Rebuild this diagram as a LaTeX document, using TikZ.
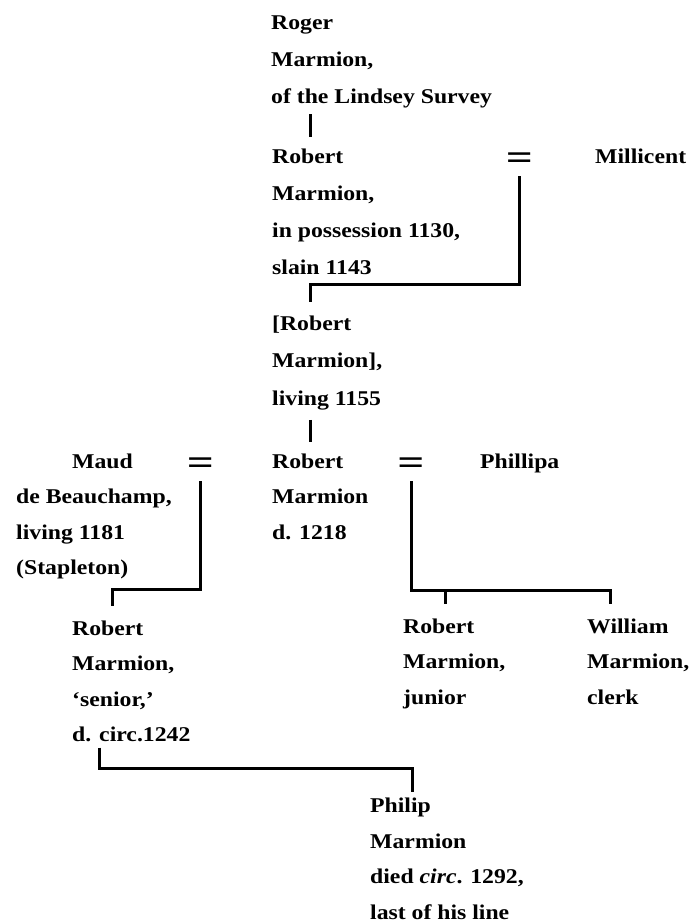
\documentclass[tikz,border=0pt]{standalone}
\usepackage{fontspec}
\setmainfont{Liberation Serif}[FakeStretch=1.13]
\usepackage{tikz}

\tikzset{
  person/.style={anchor=base west, align=left, inner sep=0pt,
    font=\fontsize{21}{#1}\selectfont\bfseries},
  person/.default=35.5,
  marr/.style={inner sep=0pt, minimum height=30pt,
    font=\fontsize{21}{21}\selectfont\bfseries},
  line/.style={line width=3pt}
}

\begin{document}
\begin{tikzpicture}[x=1pt, y=-1pt]
  \useasboundingbox (0,0) rectangle (690,924);
  % first generations (nodes sit on the baseline of their last line)
  \node[person=37] (roger) at (271,103.5) {Roger\\Marmion,\\of the Lindsey Survey};
  \node[person=37] (robA) at (272,274.5) {Robert\\Marmion,\\in possession 1130,\\slain 1143};
  \node[marr] (eqA) at (519.5,161) {\scalebox{2}[1.7]{=}};
  \node[person] (millicent) at (595,163.5) {Millicent};
  \node[person=37.5] (robB) at (272,405) {[Robert\\Marmion],\\living 1155};
  % the two marriages
  \node[person] (maud) at (16,574.5) {\hspace*{56pt}Maud\\de Beauchamp,\\living 1181\\(Stapleton)};
  \node[marr] (eqB) at (200.5,466) {\scalebox{2}[1.7]{=}};
  \node[person] (robC) at (272,539) {Robert\\Marmion\\d. 1218};
  \node[marr] (eqC) at (411,466) {\scalebox{2}[1.7]{=}};
  \node[person] (phillipa) at (480,468) {Phillipa};
  % children
  \node[person] (robD) at (72,741.5) {Robert\\Marmion,\\`senior,'\\d. circ.1242};
  \node[person] (robE) at (403,704) {Robert\\Marmion,\\junior};
  \node[person] (william) at (587,704) {William\\Marmion,\\clerk};
  \node[person] (philip) at (370,919) {Philip\\Marmion\\died \textit{circ}. 1292,\\last of his line};

  \draw[line] ([xshift=39pt,yshift=-6pt]roger.south west) -- ([xshift=38pt,yshift=12pt]robA.north west);
  \draw[line] (eqA.south) |- ([xshift=38pt,yshift=31pt]robB.north west) -- ([xshift=38pt,yshift=13pt]robB.north west);
  \draw[line] ([xshift=38pt,yshift=-10pt]robB.south west) -- ([xshift=38pt,yshift=11pt]robC.north west);
  \draw[line] (eqB.south) |- ([xshift=40pt,yshift=31pt]robD.north west) -- ([xshift=40pt,yshift=14pt]robD.north west);
  \draw[line] (eqC.south) |- ([xshift=23pt,yshift=28pt]william.north west) -- ([xshift=23pt,yshift=14pt]william.north west);
  \draw[line] ([xshift=42pt,yshift=28pt]robE.north west) -- ([xshift=42pt,yshift=14pt]robE.north west);
  \draw[line] ([xshift=27pt,yshift=-5.5pt]robD.south west) |- ([xshift=42pt,yshift=29pt]philip.north west) -- ([xshift=42pt,yshift=6pt]philip.north west);
\end{tikzpicture}
\end{document}
